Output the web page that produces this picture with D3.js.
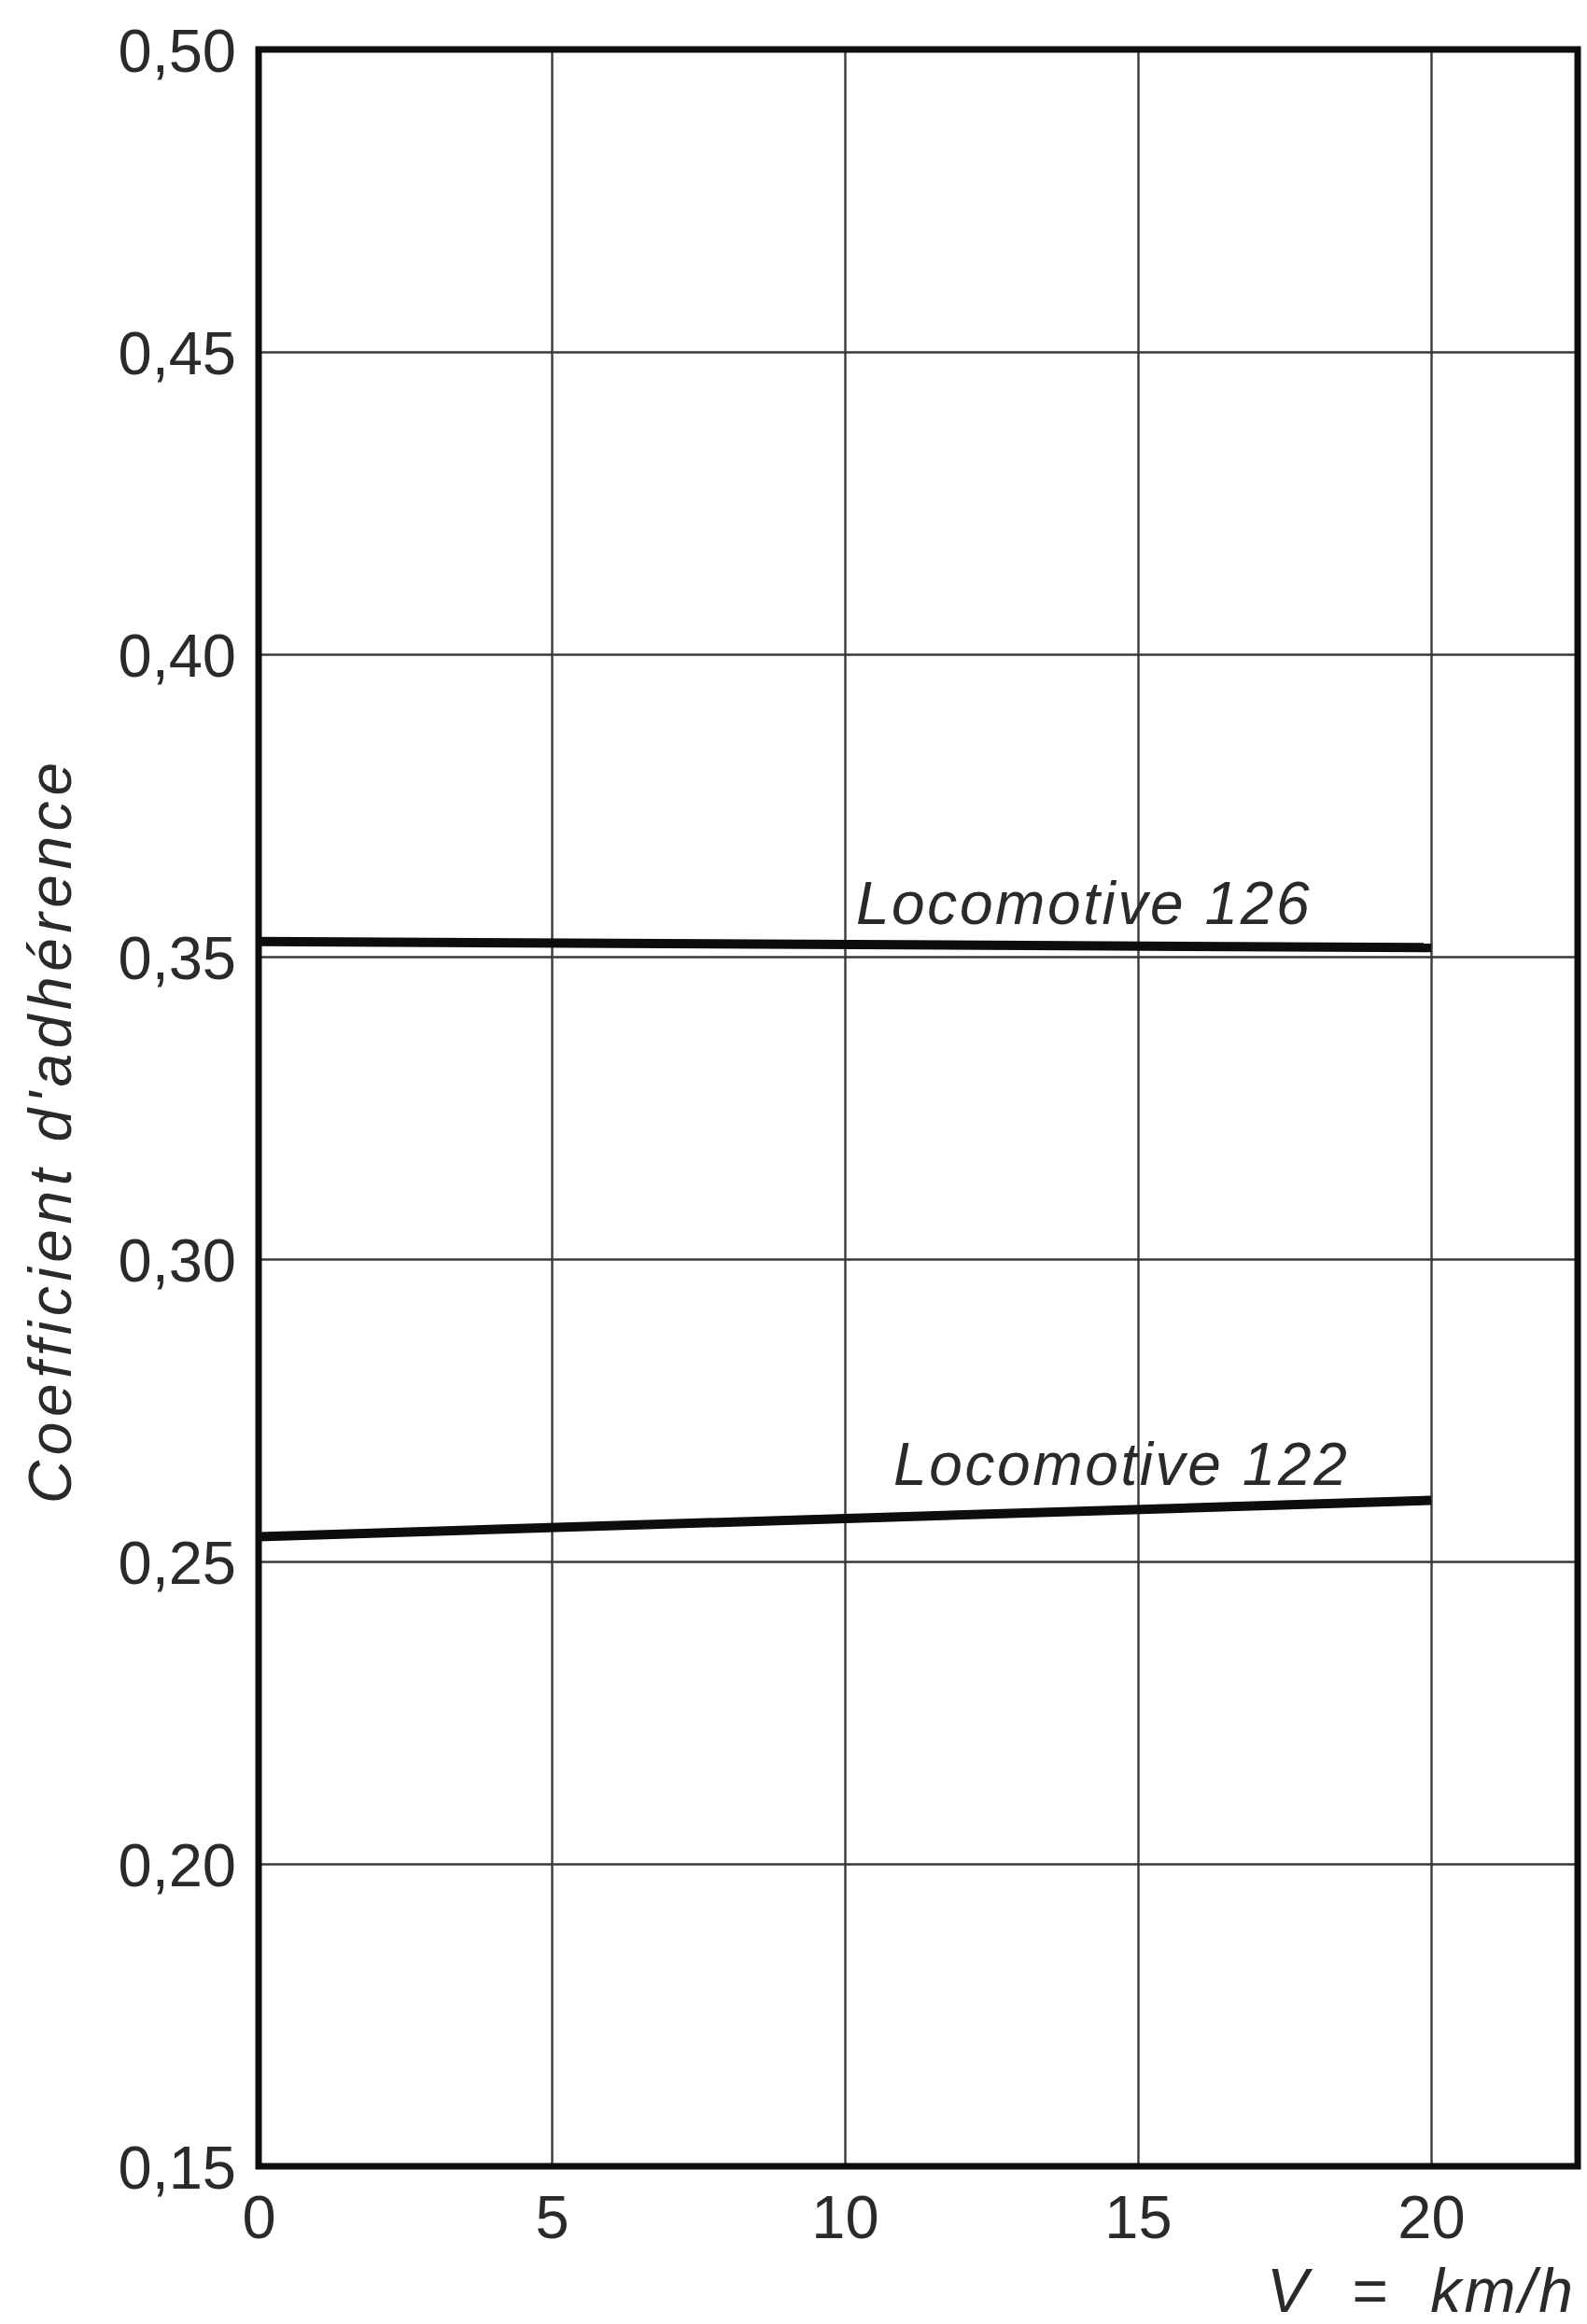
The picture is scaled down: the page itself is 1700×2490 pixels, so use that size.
<!DOCTYPE html>
<html>
<head>
<meta charset="utf-8">
<script src="https://cdn.jsdelivr.net/npm/d3@7"></script>
<style>
  html, body { margin: 0; padding: 0; background: #fff; }
  svg text { font-family: "Liberation Sans", Arial, Helvetica, sans-serif; fill: #2a2a2a; }
</style>
</head>
<body>
<svg id="chart" width="1700" height="2490"></svg>
<script>
// Vitesse (km/h) et coefficient d'adhérence mesuré
const speeds = [0, 20];
const loco126 = [0.3525, 0.3515];
const loco122 = [0.2541, 0.2601];
const seriesNames = ["Locomotive 126", "Locomotive 122"];
const xTicks = [0, 5, 10, 15, 20];
const yTicks = [0.15, 0.20, 0.25, 0.30, 0.35, 0.40, 0.45, 0.50];

const svg = d3.select("#chart");
const plotLeft = 277, plotRight = 1690, plotTop = 53, plotBottom = 2321;

const x = d3.scaleLinear().domain([0, 22.5]).range([plotLeft, plotRight]);
const y = d3.scaleLinear().domain([0.15, 0.50]).range([plotBottom, plotTop]);

const fmt = v => d3.format(".2f")(v).replace(".", ",");

// Quadrillage vertical
svg.append("g")
  .attr("transform", `translate(0,${plotBottom})`)
  .call(d3.axisBottom(x).tickValues(xTicks.slice(1)).tickSize(-(plotBottom - plotTop)).tickFormat(""))
  .call(g => g.select(".domain").remove())
  .call(g => g.selectAll("line").attr("stroke", "#3a3a3a").attr("stroke-width", 2.4));

// Quadrillage horizontal
svg.append("g")
  .attr("transform", `translate(${plotLeft},0)`)
  .call(d3.axisLeft(y).tickValues(yTicks.slice(1, -1)).tickSize(-(plotRight - plotLeft)).tickFormat(""))
  .call(g => g.select(".domain").remove())
  .call(g => g.selectAll("line").attr("stroke", "#3a3a3a").attr("stroke-width", 2.4));

// Graduations de l'axe des ordonnées
svg.append("g")
  .attr("transform", `translate(${plotLeft},0)`)
  .call(d3.axisLeft(y).tickValues(yTicks).tickSize(0).tickPadding(24).tickFormat(fmt))
  .call(g => g.select(".domain").remove())
  .call(g => g.selectAll("text")
    .attr("font-size", 65)
    .attr("font-family", "Liberation Sans, Arial, sans-serif")
    .attr("fill", "#333")
    .attr("dy", "0.36em"));

// Graduations de l'axe des abscisses
svg.append("g")
  .attr("transform", `translate(0,${plotBottom})`)
  .call(d3.axisBottom(x).tickValues(xTicks).tickSize(0).tickPadding(30).tickFormat(d3.format("d")))
  .call(g => g.select(".domain").remove())
  .call(g => g.selectAll("text")
    .attr("font-size", 65)
    .attr("font-family", "Liberation Sans, Arial, sans-serif")
    .attr("fill", "#333")
    .attr("dy", "0.72em"));

// Courbes
const line = d3.line().x(d => x(d[0])).y(d => y(d[1]));
const series = [loco126, loco122];
series.forEach(vals => {
  svg.append("path")
    .datum(speeds.map((s, i) => [s, vals[i]]))
    .attr("d", line)
    .attr("fill", "none")
    .attr("stroke", "#0d0d0d")
    .attr("stroke-width", 10);
});

// Étiquettes des courbes
const labelPos = [
  { v: 10.19, val: 0.3525, dy: -19 },
  { v: 10.83, val: 0.2575, dy: -33 }
];
seriesNames.forEach((name, i) => {
  svg.append("text")
    .attr("x", x(labelPos[i].v))
    .attr("y", y(labelPos[i].val) + labelPos[i].dy)
    .attr("font-size", 64)
    .attr("font-style", "italic")
    .attr("letter-spacing", 2.6)
    .text(name);
});

// Cadre
svg.append("rect")
  .attr("x", plotLeft).attr("y", plotTop)
  .attr("width", plotRight - plotLeft).attr("height", plotBottom - plotTop)
  .attr("fill", "none")
  .attr("stroke", "#0d0d0d")
  .attr("stroke-width", 7);

// Titre de l'axe des ordonnées
svg.append("text")
  .attr("transform", `translate(76,${(817 + 1611) / 2}) rotate(-90)`)
  .attr("text-anchor", "middle")
  .attr("font-size", 64)
  .attr("font-style", "italic")
  .attr("textLength", 794)
  .attr("lengthAdjust", "spacing")
  .text("Coefficient  d'adhérence");

// Titre de l'axe des abscisses
svg.append("text")
  .attr("x", 1357)
  .attr("y", 2477)
  .attr("font-size", 66)
  .attr("font-style", "italic")
  .attr("xml:space", "preserve")
  .style("white-space", "pre")
  .attr("textLength", 328)
  .attr("lengthAdjust", "spacing")
  .text("V  =  km/h");
</script>
</body>
</html>
